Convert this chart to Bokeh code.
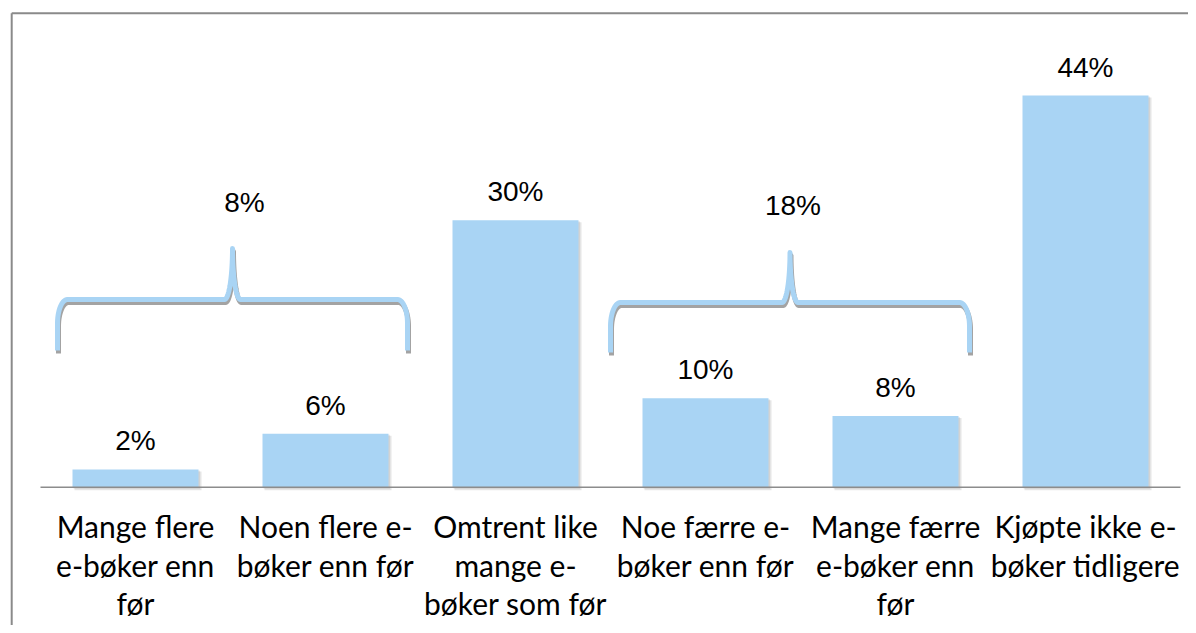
import numpy as np
from bokeh.plotting import figure
from bokeh.models import Range1d
from bokeh.core.properties import value
from bokeh.embed import file_html
from bokeh.resources import INLINE

# ---------------- data ----------------
categories = [
    "Mange flere\ne-bøker enn\nfør",
    "Noen flere e-\nbøker enn før",
    "Omtrent like\nmange e-\nbøker som før",
    "Noe færre e-\nbøker enn før",
    "Mange færre\ne-bøker enn\nfør",
    "Kjøpte ikke e-\nbøker tidligere",
]
values = [2, 6, 30, 10, 8, 44]
group_spans = [(0, 1), (3, 4)]          # categories joined by a brace
group_totals = [sum(values[a:b + 1]) for a, b in group_spans]

# ---------------- layout ----------------
W, H = 1188, 625
X0, DX = 135.0, 190.0        # canvas px of category 0, px per category
Y0, PPU = 486.7, 8.9         # canvas px of baseline, px per percent
BLUE = "#A9D4F4"
GREY = "#8c8c8c"

def dx(px):
    return px / DX

def dy(px):
    return px / PPU

def cx_to_data(cx):
    return (cx - X0) / DX

def cy_to_data(cy):
    return (Y0 - cy) / PPU

p = figure(width=W, height=H,
           x_range=Range1d(-X0 / DX, (W - X0) / DX),
           y_range=Range1d(-(H - Y0) / PPU, Y0 / PPU),
           x_axis_type=None, y_axis_type=None,
           toolbar_location=None, output_backend="svg",
           min_border=0, outline_line_color=None,
           background_fill_color="white", border_fill_color="white")
p.grid.grid_line_color = None

idx = list(range(len(categories)))
bar_w = 126 / DX

# soft bar shadow
p.quad(left=[i - bar_w / 2 + dx(2) for i in idx],
       right=[i + bar_w / 2 + dx(3) for i in idx],
       bottom=[-dy(3)] * len(idx),
       top=[v - dy(2) for v in values],
       fill_color="black", fill_alpha=0.10, line_color=None)
p.quad(left=[i - bar_w / 2 + dx(1) for i in idx],
       right=[i + bar_w / 2 + dx(1.5) for i in idx],
       bottom=[-dy(1.5)] * len(idx),
       top=[v - dy(1) for v in values],
       fill_color="black", fill_alpha=0.08, line_color=None)

# bars
p.vbar(x=idx, top=values, bottom=0, width=bar_w,
       fill_color=BLUE, line_color=None)

# baseline
p.segment(x0=[cx_to_data(40)], y0=[0], x1=[cx_to_data(1180)], y1=[0],
          line_color=GREY, line_width=1.6)

# frame lines (top and left)
top_y = cy_to_data(12.7)
left_x = cx_to_data(11.2)
p.segment(x0=[left_x, left_x], y0=[top_y, top_y],
          x1=[cx_to_data(W + 5), left_x], y1=[top_y, cy_to_data(H + 5)],
          line_color="#8a8a8a", line_width=2)

# value labels
p.text(x=idx, y=[v + dy(28.5) for v in values], text=[f"{v}%" for v in values],
       text_font=value("Liberation Sans"), text_font_size="28px",
       text_align="center", text_baseline="alphabetic", text_color="black")

# category labels (line by line)
lines = [c.split("\n") for c in categories]
for k in range(max(len(l) for l in lines)):
    xs = [i for i, l in zip(idx, lines) if len(l) > k]
    ts = [l[k] for l in lines if len(l) > k]
    p.text(x=xs, y=[-dy(39 + 38.5 * k)] * len(xs), text=ts,
           text_font=value("Lato"), text_font_size="30px",
           text_align="center", text_baseline="alphabetic", text_color="black")

# braces
brace_layout = [
    dict(pad_l=-78, pad_r=82, yh=187.7, ytip=136.7, ypeak=238.7, lab_dx=12, lab_y=285.0),
    dict(pad_l=-95, pad_r=74, yh=184.7, ytip=134.7, ypeak=234.7, lab_dx=3, lab_y=281.5),
]

def brace_path(xl, xr, yh, ytip, ypeak, rx=10.0, ry=24.0, w=8.0, n=24):
    # all in canvas px, y measured upward from baseline
    xc = (xl + xr) / 2
    th = np.linspace(0, np.pi / 2, n)
    pts = [(xl, ytip)]
    for t in th:
        pts.append((xl + rx - rx * np.cos(t), yh - ry + ry * np.sin(t)))
    h = ypeak - yh
    for t in th:
        pts.append((xc - w + w * np.sin(t), ypeak - h * np.cos(t)))
    right = [(2 * xc - x, y) for (x, y) in reversed(pts)]
    pts = pts + right[1:]
    return [p_[0] for p_ in pts], [p_[1] for p_ in pts]

for (a, b), tot, lay in zip(group_spans, group_totals, brace_layout):
    xl = X0 + a * DX + lay["pad_l"]
    xr = X0 + b * DX + lay["pad_r"]
    xs, ys = brace_path(xl, xr, lay["yh"], lay["ytip"], lay["ypeak"])
    xd = [cx_to_data(x) for x in xs]
    yd = [dy(y) for y in ys]
    p.line([x + dx(1) for x in xd], [y - dy(3) for y in yd],
           line_color="#a3a3a3", line_width=5, line_cap="butt", line_join="round")
    p.line(xd, yd, line_color=BLUE, line_width=5, line_cap="butt", line_join="round")
    xc = (xl + xr) / 2 + lay["lab_dx"]
    p.text(x=[cx_to_data(xc)], y=[dy(lay["lab_y"])], text=[f"{tot}%"],
           text_font=value("Liberation Sans"), text_font_size="28px",
           text_align="center", text_baseline="alphabetic", text_color="black")

open("out.html", "w").write(file_html(p, INLINE))
